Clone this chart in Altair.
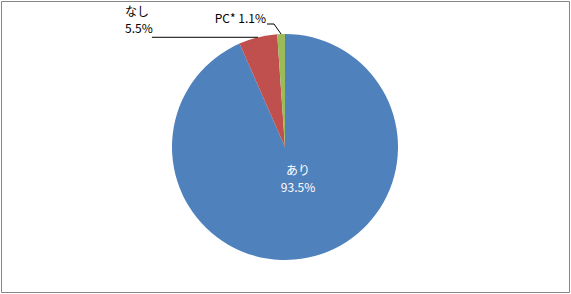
import math
import altair as alt
import pandas as pd

# ---- data ----
categories = ["あり", "なし", "PC*"]
values = [93.5, 5.5, 1.1]
pct_labels = ["93.5%", "5.5%", "1.1%"]
colors = ["#4F81BD", "#C0504D", "#9BBB59"]

# ---- layout ----
W, H = 571, 294
CX, CY, R = 285, 147, 113
FONT = "Noto Sans CJK JP"
FS = 12

total = sum(values)
mids = []
acc = 0.0
for v in values:
    mids.append((acc + v / 2) / total * 2 * math.pi)
    acc += v
anchors = [(CX + R * math.sin(a), CY - R * math.cos(a)) for a in mids]

pie_df = pd.DataFrame({"category": categories, "value": values, "order": range(len(values))})

pie = alt.Chart(pie_df).mark_arc(x=CX, y=CY, outerRadius=R).encode(
    theta=alt.Theta("value:Q", stack=True),
    color=alt.Color("category:N", scale=alt.Scale(domain=categories, range=colors), legend=None),
    order=alt.Order("order:Q"),
)

# leader lines (from label to slice mid-point on the rim)
ax1, ay1 = anchors[1]
ax2, ay2 = anchors[2]
seg = pd.DataFrame([
    {"x": ax1 - 106, "y": ay1, "x2": ax1, "y2": ay1},
    {"x": 267, "y": 24, "x2": 274, "y2": 24},
    {"x": 274, "y": 24, "x2": ax2, "y2": ay2},
])
leaders = alt.Chart(seg).mark_rule(color="black", strokeWidth=1).encode(
    x=alt.X("x:Q", scale=None, axis=None), y=alt.Y("y:Q", scale=None, axis=None),
    x2="x2:Q", y2="y2:Q",
)

def txt(df, align, color):
    return alt.Chart(df).mark_text(align=align, baseline="alphabetic", font=FONT,
                                   fontSize=FS, color=color).encode(
        x=alt.X("x:Q", scale=None, axis=None), y=alt.Y("y:Q", scale=None, axis=None),
        text="t:N",
    )

inner = pd.DataFrame([
    {"t": categories[0], "x": 298, "y": 175},
    {"t": pct_labels[0], "x": 298, "y": 192},
])
left = pd.DataFrame([
    {"t": categories[1], "x": 125, "y": 16},
    {"t": pct_labels[1], "x": 125, "y": 33},
])
right = pd.DataFrame([
    {"t": f"{categories[2]} {pct_labels[2]}", "x": 266, "y": 23},
])

frame = alt.Chart(alt.Data(values=[{}])).mark_rect(fill=None, stroke="#868686", strokeWidth=1).encode(
    x=alt.value(1.5), x2=alt.value(569.5), y=alt.value(1.5), y2=alt.value(292.5)
)

chart = alt.layer(
    frame, pie, leaders,
    txt(inner, "center", "white"), txt(left, "left", "black"), txt(right, "right", "black"),
).properties(width=W, height=H, padding=0, autosize="none", background="white").configure_view(stroke=None)

chart.save("out.html", embed_options={"renderer": "svg", "actions": False})
